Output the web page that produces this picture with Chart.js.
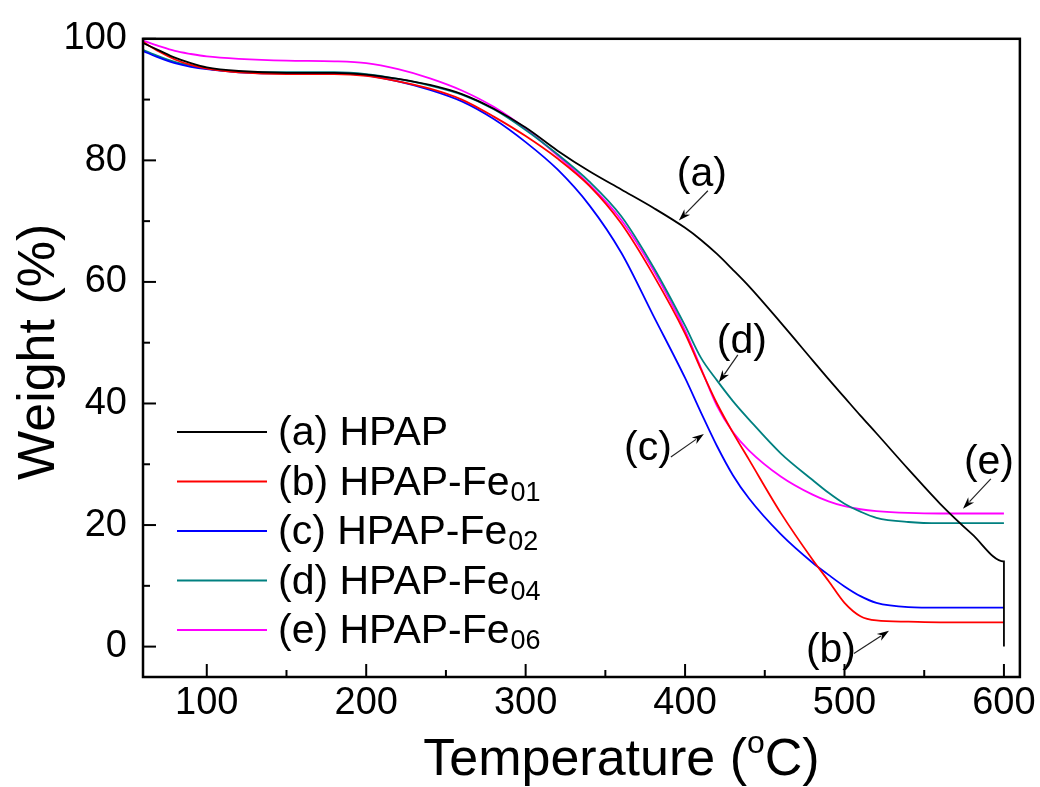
<!DOCTYPE html>
<html>
<head>
<meta charset="utf-8">
<script src="https://cdn.jsdelivr.net/npm/chart.js@4.4.1/dist/chart.umd.min.js"></script>
<style>
  html, body { margin: 0; padding: 0; background: #fff; }
  #wrap { width: 1040px; height: 787px; }
</style>
</head>
<body>
<div id="wrap"><canvas id="chart"></canvas></div>
<script>
// temperature grid (°C)
const temps = [60, 70, 80, 90, 100, 120, 150, 180, 200, 220, 240, 260, 280, 300, 320, 340, 360, 380,
  400, 410, 420, 430, 440, 460, 480, 490, 500, 510, 520, 540, 560, 580, 600];

// weight (%)
const hpap   = [99.3, 98.1, 96.9, 96.0, 95.3, 94.7, 94.4, 94.4, 94.1, 93.4, 92.4, 90.9, 88.5, 85.4, 81.6, 78.2, 75.2, 72.2,
  68.9, 66.9, 64.6, 62.0, 59.3, 53.3, 47.1, 44.0, 41.0, 38.0, 35.1, 29.2, 23.5, 18.5, 14.0];
const fe01   = [99.5, 97.9, 96.6, 95.7, 95.1, 94.5, 94.2, 94.2, 93.9, 93.0, 91.8, 90.0, 87.2, 84.0, 80.3, 75.8, 69.6, 61.2,
  51.5, 45.6, 40.0, 35.2, 30.8, 22.0, 14.3, 10.8, 7.2, 5.0, 4.3, 4.1, 4.0, 4.0, 4.0];
const fe02   = [98.0, 96.9, 96.0, 95.4, 95.0, 94.5, 94.3, 94.3, 94.0, 93.0, 91.6, 89.7, 86.8, 83.0, 78.5, 72.6, 64.8, 54.5,
  44.2, 38.5, 33.0, 28.2, 24.4, 18.5, 13.8, 11.8, 9.9, 8.3, 7.2, 6.5, 6.4, 6.4, 6.4];
const fe04   = [98.2, 97.1, 96.2, 95.6, 95.1, 94.6, 94.5, 94.5, 94.2, 93.4, 92.3, 90.8, 88.4, 85.0, 81.0, 76.5, 70.8, 62.5,
  52.8, 47.5, 43.8, 40.4, 37.4, 31.8, 27.4, 25.3, 23.5, 22.2, 21.2, 20.5, 20.3, 20.3, 20.3];
const fe06   = [99.7, 98.8, 98.0, 97.5, 97.1, 96.7, 96.4, 96.3, 96.0, 95.0, 93.5, 91.5, 88.8, 85.2, 80.8, 76.0, 70.2, 62.0,
  52.0, 45.8, 39.6, 35.3, 32.3, 28.0, 25.0, 23.9, 23.1, 22.6, 22.3, 22.0, 21.9, 21.9, 21.9];

// end of the HPAP run: trace drops straight down at 600 °C
const hpapEndT = [600];
const hpapEndW = [0];

const xTicks = [100, 150, 200, 250, 300, 350, 400, 450, 500, 550, 600];
const yTicks = [0, 10, 20, 30, 40, 50, 60, 70, 80, 90, 100];

const seriesNames = ['(a) HPAP', '(b) HPAP-Fe', '(c) HPAP-Fe', '(d) HPAP-Fe', '(e) HPAP-Fe'];
const seriesSubs  = ['', '01', '02', '04', '06'];
const seriesColors = ['#000000', '#ff0000', '#0000ff', '#008080', '#ff00ff'];

// curve callouts
const noteLabels = ['(a)', '(b)', '(c)', '(d)', '(e)'];
const noteX      = [410.5, 491.5, 376.7, 435.6, 590.6];
const noteY      = [77.6, -0.65, 32.5, 50.2, 30.2];
const arrowFromX = [414.3, 505.9, 391.1, 433.1, 591.8];
const arrowFromY = [75.0, -1.14, 31.2, 48.0, 27.6];
const arrowToX   = [396.1, 527.9, 411.8, 421.2, 574.3];
const arrowToY   = [70.1, 2.61, 35.0, 43.5, 22.7];

const FONT = '"Liberation Sans", Arial, sans-serif';

function pts(xs, ys) {
  return xs.map((x, i) => ({ x, y: ys[i] }));
}

const series = [
  pts(temps, hpap).concat(pts(hpapEndT, hpapEndW)),
  pts(temps, fe01),
  pts(temps, fe02),
  pts(temps, fe04),
  pts(temps, fe06)
];

const datasets = series.map((data, i) => ({
  label: seriesNames[i],
  sub: seriesSubs[i],
  data,
  borderColor: seriesColors[i],
  backgroundColor: seriesColors[i],
  borderWidth: 1.8,
  pointRadius: 0,
  cubicInterpolationMode: 'monotone',
  fill: false
}));

function arrow(ctx, x0, y0, x1, y1) {
  const a = Math.atan2(y1 - y0, x1 - x0);
  const len = 12, w = 4;
  const c = Math.cos(a), s = Math.sin(a);
  ctx.beginPath();
  ctx.moveTo(x0, y0);
  ctx.lineTo(x1 - c * len * 0.8, y1 - s * len * 0.8);
  ctx.stroke();
  ctx.beginPath();
  ctx.moveTo(x1, y1);
  ctx.lineTo(x1 - c * len - s * w, y1 - s * len + c * w);
  ctx.lineTo(x1 - c * len * 0.7, y1 - s * len * 0.7);
  ctx.lineTo(x1 - c * len + s * w, y1 - s * len - c * w);
  ctx.closePath();
  ctx.fill();
}

const decor = {
  id: 'decor',
  afterDraw(chart) {
    const { ctx, chartArea: area, scales: { x, y } } = chart;
    ctx.save();

    // inward ticks
    ctx.strokeStyle = '#000';
    ctx.lineWidth = 2;
    x.ticks.forEach(t => {
      const px = x.getPixelForValue(t.value);
      const len = t.value % 100 === 0 ? 13 : 7;
      ctx.beginPath();
      ctx.moveTo(px, area.bottom);
      ctx.lineTo(px, area.bottom - len);
      ctx.stroke();
    });
    y.ticks.forEach(t => {
      const py = y.getPixelForValue(t.value);
      const len = t.value % 20 === 0 ? 13 : 7;
      ctx.beginPath();
      ctx.moveTo(area.left, py);
      ctx.lineTo(area.left + len, py);
      ctx.stroke();
    });

    // frame
    ctx.lineWidth = 2.5;
    ctx.strokeRect(area.left, area.top, area.right - area.left, area.bottom - area.top);

    // legend
    const ds = chart.data.datasets;
    ds.forEach((d, i) => {
      const ry = area.bottom - 245 + i * 49.5;
      ctx.strokeStyle = d.borderColor;
      ctx.lineWidth = 1.8;
      ctx.beginPath();
      ctx.moveTo(area.left + 34, ry);
      ctx.lineTo(area.left + 124, ry);
      ctx.stroke();
      ctx.fillStyle = '#000';
      ctx.textBaseline = 'alphabetic';
      ctx.textAlign = 'left';
      ctx.font = '41px ' + FONT;
      const tx = area.left + 135;
      ctx.fillText(d.label, tx, ry + 13);
      if (d.sub) {
        const w = ctx.measureText(d.label).width;
        ctx.font = '27px ' + FONT;
        ctx.fillText(d.sub, tx + w + 1, ry + 19);
      }
    });

    // callouts
    ctx.fillStyle = '#000';
    ctx.strokeStyle = '#222';
    ctx.lineWidth = 1.2;
    ctx.font = '41px ' + FONT;
    ctx.textAlign = 'center';
    ctx.textBaseline = 'middle';
    noteLabels.forEach((lab, i) => {
      ctx.fillText(lab, x.getPixelForValue(noteX[i]), y.getPixelForValue(noteY[i]));
      arrow(ctx,
        x.getPixelForValue(arrowFromX[i]), y.getPixelForValue(arrowFromY[i]),
        x.getPixelForValue(arrowToX[i]), y.getPixelForValue(arrowToY[i]));
    });

    // y title
    ctx.save();
    ctx.translate(40, area.top + 313);
    ctx.rotate(-Math.PI / 2);
    ctx.font = '52px ' + FONT;
    ctx.textAlign = 'center';
    ctx.textBaseline = 'middle';
    ctx.fillText('Weight (%)', 0, 0);
    ctx.restore();

    // x title with superscript o
    ctx.textAlign = 'left';
    ctx.textBaseline = 'alphabetic';
    const base = 775;
    const partA = 'Temperature (';
    const partB = 'o';
    const partC = 'C)';
    ctx.font = '52px ' + FONT;
    const wA = ctx.measureText(partA).width;
    const wC = ctx.measureText(partC).width;
    ctx.font = '32px ' + FONT;
    const wB = ctx.measureText(partB).width;
    const total = wA + wB + wC;
    let cx = (area.left + area.right) / 2 + 40 - total / 2;
    ctx.font = '52px ' + FONT;
    ctx.fillText(partA, cx, base);
    cx += wA;
    ctx.font = '32px ' + FONT;
    ctx.fillText(partB, cx, base - 22);
    cx += wB;
    ctx.font = '52px ' + FONT;
    ctx.fillText(partC, cx, base);

    ctx.restore();
  }
};

new Chart(document.getElementById('chart'), {
  type: 'line',
  data: { datasets },
  options: {
    responsive: true,
    maintainAspectRatio: false,
    animation: false,
    layout: { padding: { top: 34, right: 20, left: 0, bottom: 0 } },
    plugins: {
      legend: { display: false },
      tooltip: { enabled: false }
    },
    scales: {
      x: {
        type: 'linear',
        min: 60,
        max: 610,
        afterBuildTicks(s) { s.ticks = xTicks.map(v => ({ value: v })); },
        afterFit(s) { s.height = 110; },
        border: { display: false },
        grid: { display: false, drawTicks: false },
        ticks: {
          autoSkip: false,
          maxRotation: 0,
          padding: 4,
          color: '#000',
          font: { family: FONT, size: 38 },
          callback: v => (v % 100 === 0 ? String(v) : '')
        }
      },
      y: {
        min: -5,
        max: 100,
        afterBuildTicks(s) { s.ticks = yTicks.map(v => ({ value: v })); },
        afterFit(s) { s.width = 143; },
        border: { display: false },
        grid: { display: false, drawTicks: false },
        ticks: {
          autoSkip: false,
          padding: 16,
          color: '#000',
          font: { family: FONT, size: 38 },
          callback: v => (v % 20 === 0 ? String(v) : '')
        }
      }
    }
  },
  plugins: [decor]
});
</script>
</body>
</html>
